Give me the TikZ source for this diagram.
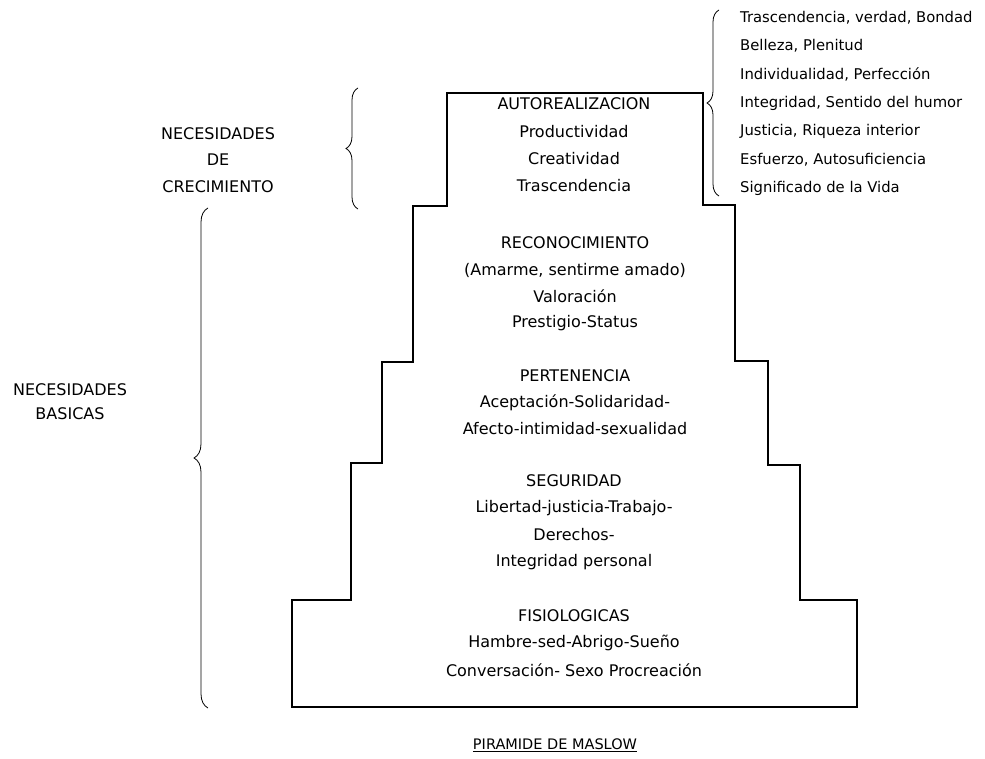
\documentclass[tikz,border=0pt]{standalone}
\usepackage{fontspec}
\setmainfont{DejaVu Sans}
\usetikzlibrary{decorations.pathreplacing}
\begin{document}
\begin{tikzpicture}[x=1pt,y=-1pt,
  lbl/.style={font=\fontsize{16}{18}\selectfont, inner sep=0pt, anchor=center},
  lst/.style={font=\fontsize{14.8}{17}\selectfont, inner sep=0pt, anchor=west},
  outline/.style={line width=2.4pt, line join=miter},
  bracestyle/.style={line width=0.8pt, decorate, decoration={brace, amplitude=#1}}
]
\useasboundingbox (0,0) rectangle (985,759);
\fill[white] (0,0) rectangle (985,759);

% staircase outline
\draw[outline] (447,93) -- (703,93) -- (703,205) -- (735,205) -- (735,361)
  -- (768,361) -- (768,465) -- (800,465) -- (800,600) -- (857,600) -- (857,707)
  -- (292,707) -- (292,600) -- (351,600) -- (351,463) -- (382,463) -- (382,362)
  -- (413,362) -- (413,206) -- (447,206) -- cycle;

% level texts
\node[lbl] (a1) at (574,104) {AUTOREALIZACION};
\node[lbl] (a2) at (574,132) {Productividad};
\node[lbl] (a3) at (574,159) {Creatividad};
\node[lbl] (a4) at (574,186) {Trascendencia};

\node[lbl] (r1) at (575,243) {RECONOCIMIENTO};
\node[lbl] (r2) at (575,270) {(Amarme, sentirme amado)};
\node[lbl] (r3) at (575,296) {Valoración};
\node[lbl] (r4) at (575,323) {Prestigio-Status};

\node[lbl] (p1) at (575,376) {PERTENENCIA};
\node[lbl] (p2) at (575,403) {Aceptación-Solidaridad-};
\node[lbl] (p3) at (575,429) {Afecto-intimidad-sexualidad};

\node[lbl] (s1) at (574,481) {SEGURIDAD};
\node[lbl] (s2) at (574,508) {Libertad-justicia-Trabajo-};
\node[lbl] (s3) at (574,535) {Derechos-};
\node[lbl] (s4) at (574,562) {Integridad personal};

\node[lbl] (f1) at (574,616) {FISIOLOGICAS};
\node[lbl] (f2) at (574,643) {Hambre-sed-Abrigo-Sueño};
\node[lbl] (f3) at (574,670) {Conversación- Sexo Procreación};

% right list
\node[lst] (t1) at (740,18) {Trascendencia, verdad, Bondad};
\node[lst] (t2) at (740,46) {Belleza, Plenitud};
\node[lst] (t3) at (740,74) {Individualidad, Perfección};
\node[lst] (t4) at (740,103) {Integridad, Sentido del humor};
\node[lst] (t5) at (740,131) {Justicia, Riqueza interior};
\node[lst] (t6) at (740,160) {Esfuerzo, Autosuficiencia};
\node[lst] (t7) at (740,188) {Significado de la Vida};

% left labels
\node[lbl] (g1) at (218,134) {NECESIDADES};
\node[lbl] (g2) at (218,160) {DE};
\node[lbl] (g3) at (218,187) {CRECIMIENTO};

\node[lbl] (b1) at (70,390) {NECESIDADES};
\node[lbl] (b2) at (70,414) {BASICAS};

% title
\node[font=\fontsize{14.5}{16}\selectfont, inner sep=0pt] (title) at (555,745) {\underline{PIRAMIDE DE MASLOW}};

% braces
\coordinate (rbB) at (719,196);
\coordinate (rbT) at (719,10);
\draw[bracestyle=12pt] (rbB) -- (rbT);

\coordinate (gbB) at (358,209);
\coordinate (gbT) at (358,88);
\draw[bracestyle=12pt] (gbB) -- (gbT);

\coordinate (bbB) at (208,708);
\coordinate (bbT) at (208,208);
\draw[bracestyle=14pt] (bbB) -- (bbT);
\end{tikzpicture}
\end{document}
